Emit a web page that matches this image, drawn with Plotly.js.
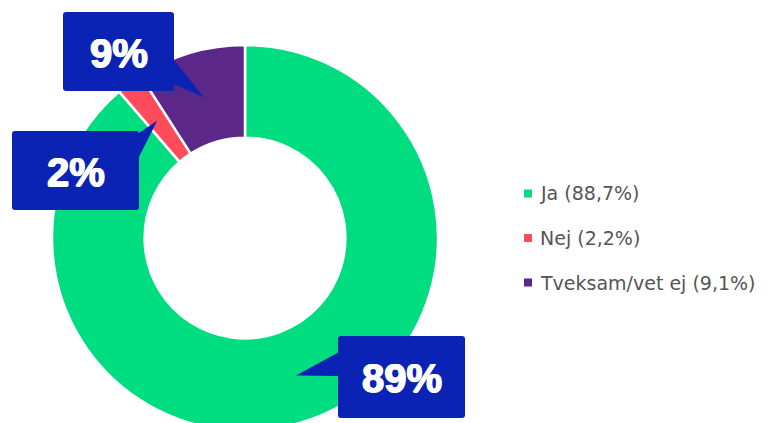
<!DOCTYPE html>
<html>
<head>
<meta charset="utf-8">
<script src="https://cdn.plot.ly/plotly-3.0.1.min.js"></script>
<style>
html,body{margin:0;padding:0;overflow:hidden;background:#fff;}
#chart{width:771px;height:440px;}
</style>
</head>
<body>
<div id="chart"></div>
<script>
// ---- data ----
const labels = ["Ja", "Nej", "Tveksam/vet ej"];
const values = [88.7, 2.2, 9.1];
const colors = ["#00DD80", "#FF4B5A", "#5B2889"];

// ---- layout constants ----
const W = 771, H = 440;
const cx = 245, cy = 238, R = 193, hole = 0.52;
const boxColor = "#0A23B4";
const px = x => x / W;
const py = y => 1 - y / H;

// callout boxes (pixel layout) : box rect + pointer base points
const callouts = [
  {box: [338, 336, 465, 418], base: [[341, 351], [341, 376]]},
  {box: [12, 131, 139, 210],  base: [[136, 135], [136, 163]]},
  {box: [63, 12, 174, 91],    base: [[171, 56], [171, 83]]}
];

const total = values.reduce((a, b) => a + b, 0);
const shapes = [];
const annotations = [];

function roundRect(x0, y0, x1, y1, r) {
  return `M${px(x0 + r)},${py(y0)} L${px(x1 - r)},${py(y0)} Q${px(x1)},${py(y0)} ${px(x1)},${py(y0 + r)} ` +
         `L${px(x1)},${py(y1 - r)} Q${px(x1)},${py(y1)} ${px(x1 - r)},${py(y1)} ` +
         `L${px(x0 + r)},${py(y1)} Q${px(x0)},${py(y1)} ${px(x0)},${py(y1 - r)} ` +
         `L${px(x0)},${py(y0 + r)} Q${px(x0)},${py(y0)} ${px(x0 + r)},${py(y0)} Z`;
}

let cum = 0;
values.forEach((v, i) => {
  const mid = (cum + v / 2) / total * 2 * Math.PI;
  cum += v;
  const rm = R * (1 + hole) / 2;
  const tx = cx + rm * Math.sin(mid), ty = cy - rm * Math.cos(mid);
  const c = callouts[i];
  const [b0, b1] = c.base;
  shapes.push({type: "path", xref: "paper", yref: "paper",
    path: `M${px(b0[0])},${py(b0[1])} L${px(tx)},${py(ty)} L${px(b1[0])},${py(b1[1])} Z`,
    fillcolor: boxColor, line: {width: 0}, layer: "above"});
  const [x0, y0, x1, y1] = c.box;
  shapes.push({type: "path", xref: "paper", yref: "paper",
    path: roundRect(x0, y0, x1, y1, 3),
    fillcolor: boxColor, line: {width: 0}, layer: "above"});
  annotations.push({xref: "paper", yref: "paper", x: px((x0 + x1) / 2), y: py((y0 + y1) / 2 + 1),
    xanchor: "center", yanchor: "middle", showarrow: false,
    text: Math.round(v) + "%",
    font: {family: "'Liberation Sans', Arial, sans-serif", size: 40, color: "#ffffff", weight: "bold",
           shadow: "0.8px 0 0 #ffffff, -0.8px 0 0 #ffffff, 0 0.5px 0 #ffffff"}});

  // legend entry
  const ly = 193.5 + i * 44.5;
  shapes.push({type: "rect", xref: "paper", yref: "paper",
    x0: px(524), x1: px(532), y0: py(ly - 4), y1: py(ly + 4),
    fillcolor: colors[i], line: {width: 0}});
  annotations.push({xref: "paper", yref: "paper", x: px(538), y: py(ly),
    xanchor: "left", yanchor: "middle", showarrow: false,
    text: `${labels[i]} (${v.toFixed(1).replace(".", ",")}%)`,
    font: {family: "'DejaVu Sans', sans-serif", size: 19, color: "#555555"}});
});

const data = [{
  type: "pie",
  labels: labels,
  values: values,
  hole: hole,
  sort: false,
  direction: "clockwise",
  rotation: 0,
  textinfo: "none",
  hoverinfo: "skip",
  marker: {colors: colors, line: {color: "#ffffff", width: 2.5}},
  domain: {x: [px(cx - R), px(cx + R)], y: [py(cy + R), py(cy - R)]},
  showlegend: false
}];

const layout = {
  width: W, height: H,
  margin: {l: 0, r: 0, t: 0, b: 0},
  paper_bgcolor: "#ffffff",
  showlegend: false,
  shapes: shapes,
  annotations: annotations
};

Plotly.newPlot("chart", data, layout, {staticPlot: true, displayModeBar: false});
</script>
</body>
</html>
